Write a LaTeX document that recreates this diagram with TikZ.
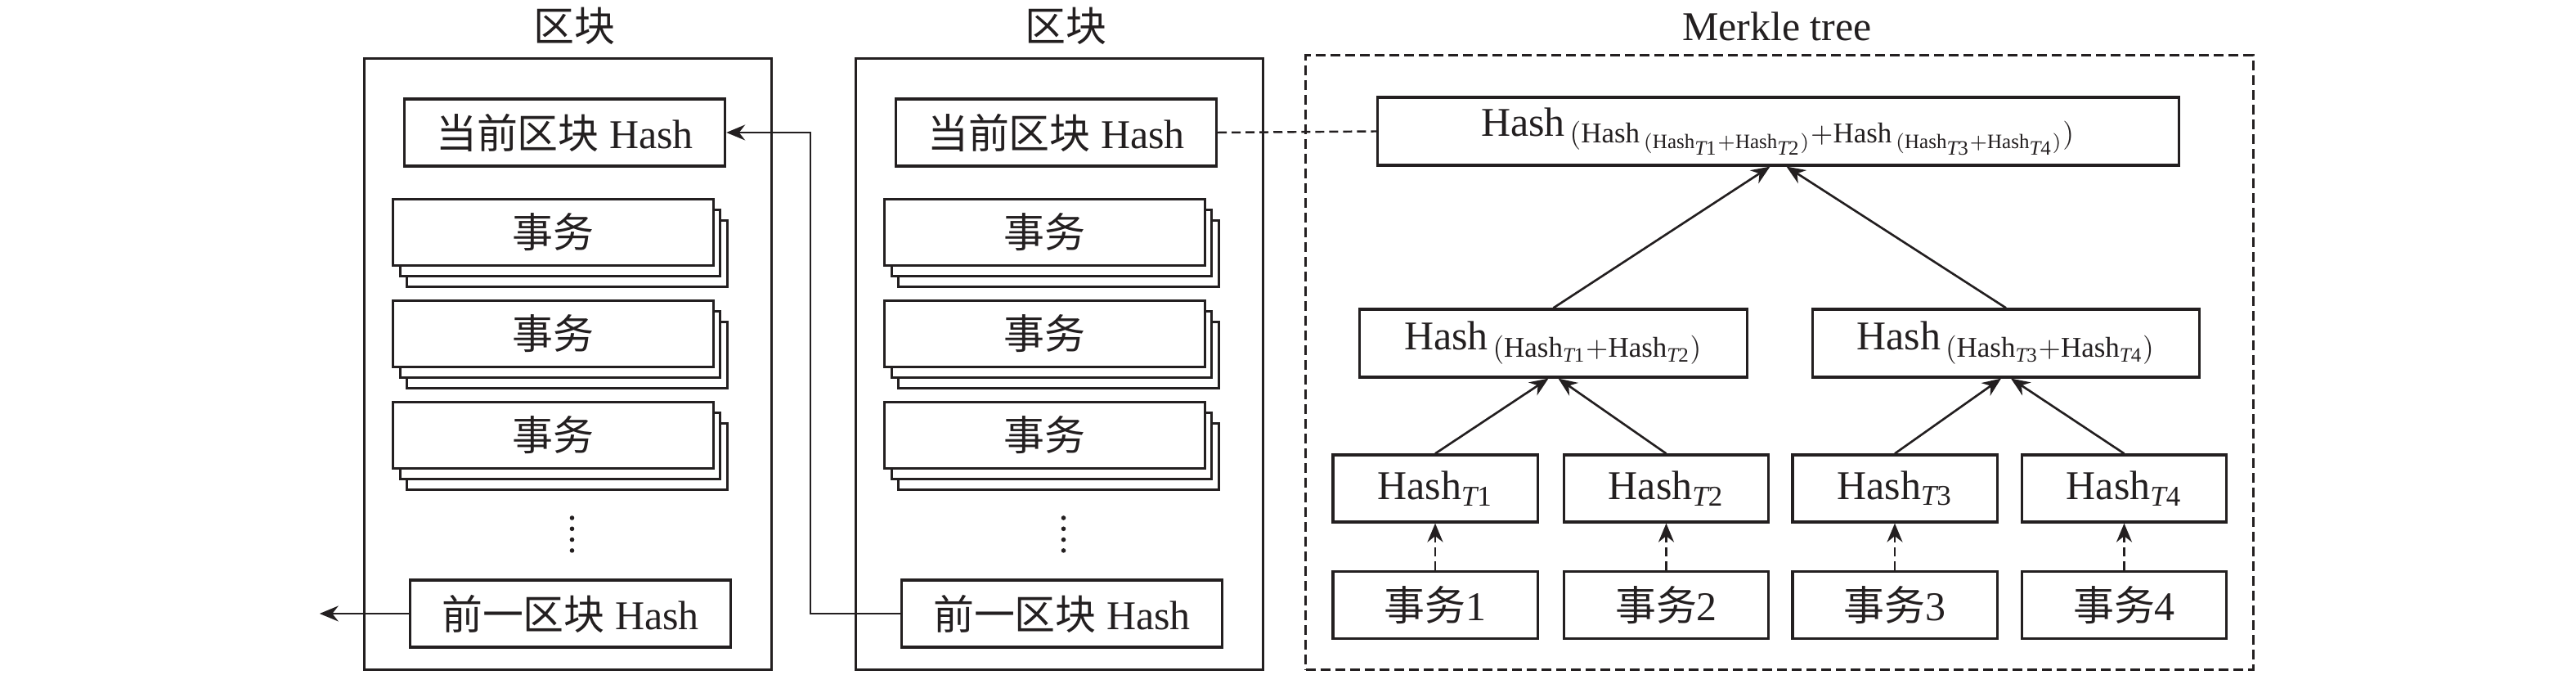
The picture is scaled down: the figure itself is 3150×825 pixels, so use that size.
\documentclass[tikz,border=0pt]{standalone}
\usepackage{fontspec}
\setmainfont{Liberation Serif}
\newfontfamily\cjk{Noto Sans CJK SC}
\usepackage{tikz}
\usetikzlibrary{positioning,arrows.meta}
\definecolor{Ink}{HTML}{231F20}
\newcommand{\Hsh}{\mathrm{Hash}}
\newcommand{\Tn}[1]{\mathit{T}\mathrm{#1}}
\newcommand{\TxStack}[3]{%
\node[txbox, xshift=1.7mm, yshift=-2.6mm] (#1-3) at #2 {};
\node[txbox, xshift=0.85mm, yshift=-1.3mm] (#1-2) at #2 {};
\node[txbox] (#1) at #2 {#3};
}

\begin{document}
\begin{tikzpicture}[
    x=0.01cm,
    y=-0.01cm,
    every node/.style={font=\fontsize{14.2pt}{16pt}\selectfont, text=Ink},
    box/.style={draw=Ink, fill=white, line width=0.9pt, inner sep=0pt},
    hashbox/.style={box, minimum width=3.92cm, minimum height=0.82cm},
    txbox/.style={box, minimum width=3.91cm, minimum height=0.81cm},
    blockbox/.style={draw=Ink, line width=0.9pt, minimum width=4.97cm, minimum height=7.46cm},
    leaf/.style={box, minimum width=2.5cm, minimum height=0.82cm},
    link/.style={-{Stealth[length=2.3mm,width=1.9mm]}, Ink, line width=0.75pt}
]
\useasboundingbox (0,0) rectangle (3150,825);

% Blocks
\foreach \b/\c in {1/694.5, 2/1295.5} {
    \node[blockbox] (blk\b) at (\c,445) {};
    \node (ttl\b) at ({\c+8},32) {\cjk 区块};
    \node[hashbox] (cur\b) at ({\c-4},162) {{\cjk 当前区块} Hash};
    \TxStack{txa\b}{({\c-18},284)}{\cjk 事务}
    \TxStack{txb\b}{({\c-18},408)}{\cjk 事务}
    \TxStack{txc\b}{({\c-18},532)}{\cjk 事务}
    \foreach \k in {0,...,3} {
        \fill[Ink] ({\c+5},{633+13.3*\k}) circle (0.28mm);
    }
    \node[hashbox] (prev\b) at ({\c+3},750) {{\cjk 前一区块} Hash};
}

% Chain links
\draw[link, line width=0.6pt] (prev2.west) -- ++(-110,0) |- (cur1.east);
\draw[link, line width=0.6pt] (prev1.west) -- ++(-109,0);

% Merkle tree
\node[draw=Ink, line width=0.8pt, dash pattern=on 1.2mm off 0.6mm,
      minimum width=11.58cm, minimum height=7.5cm] (mt) at (2176,443) {};
\node (mtTitle) at (2173,32) {Merkle tree};

\node[box, minimum width=9.79cm, minimum height=0.83cm] (root) at (2174.5,160.5)
    {Hash$_{\,(\Hsh_{\,(\Hsh_{\Tn1}+\Hsh_{\Tn2})}+\Hsh_{\,(\Hsh_{\Tn3}+\Hsh_{\Tn4})})}$};
\draw[Ink, line width=0.7pt, dash pattern=on 1.1mm off 0.6mm] (cur2.east) -- (root.west);

\node[box, minimum width=4.73cm, minimum height=0.83cm] (midL) at (1899.5,419.5)
    {Hash$_{\,(\Hsh_{\Tn1}+\Hsh_{\Tn2})}$};
\node[box, minimum width=4.73cm, minimum height=0.83cm] (midR) at (2453,419.5)
    {Hash$_{\,(\Hsh_{\Tn3}+\Hsh_{\Tn4})}$};

\foreach \i/\x in {1/1755, 2/2037.5, 3/2317, 4/2597.5} {
    \node[leaf] (h\i) at (\x,597) {Hash$_{\Tn\i}$};
    \node[leaf] (t\i) at (\x,739.5) {{\cjk 事务}\i};
    \draw[link, dash pattern=on 1.1mm off 0.6mm] (t\i.north) -- (h\i.south);
}

\draw[link] (h1.north) -- ([xshift=-0.6mm]midL.south);
\draw[link] (h2.north) -- ([xshift=0.6mm]midL.south);
\draw[link] (h3.north) -- ([xshift=-0.6mm]midR.south);
\draw[link] (h4.north) -- ([xshift=0.6mm]midR.south);
\draw[link] (midL.north) -- ([xshift=-1mm]root.south);
\draw[link] (midR.north) -- ([xshift=1mm]root.south);

\end{tikzpicture}
\end{document}
